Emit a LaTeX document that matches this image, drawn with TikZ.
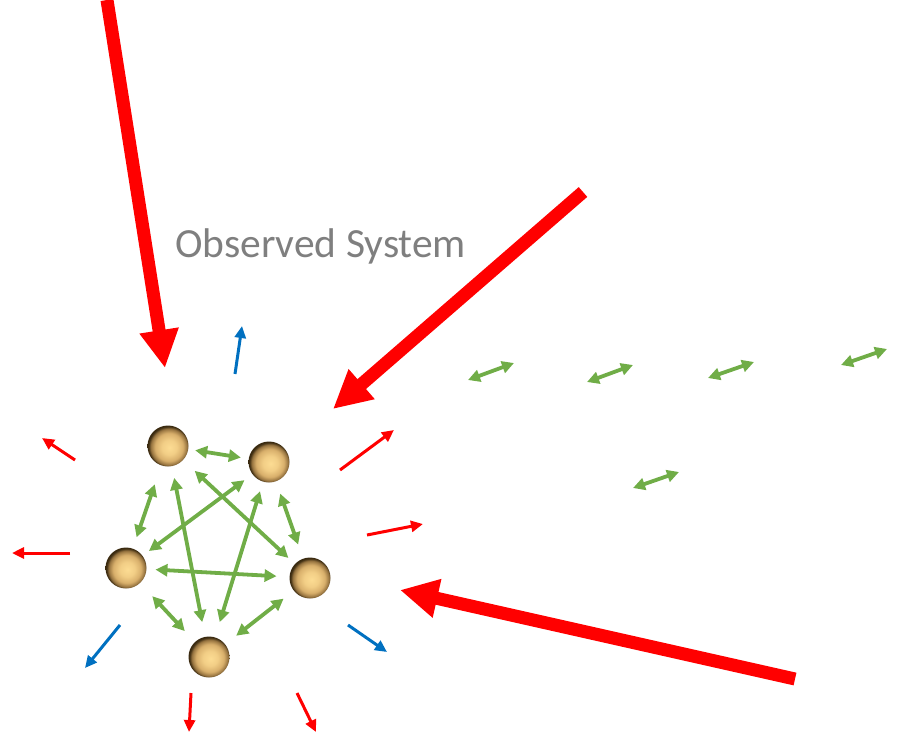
\documentclass[tikz,border=0pt]{standalone}
\usepackage{fontspec}
\setmainfont{Carlito}
\usetikzlibrary{arrows.meta}
\definecolor{bigred}{HTML}{FF0000}
\definecolor{myblue}{HTML}{0070C0}
\definecolor{mygreen}{HTML}{70AD47}
\definecolor{txtgray}{HTML}{7F7F7F}
\definecolor{ballA}{HTML}{FCDC93}
\definecolor{ballB}{HTML}{F2CE86}
\definecolor{ballC}{HTML}{D8AF6B}
\definecolor{ballD}{HTML}{977440}
\definecolor{ballE}{HTML}{3A2A10}
\pgfdeclareradialshading{ballshade}{\pgfpoint{2bp}{-2bp}}{%
  color(0bp)=(ballA);
  color(9bp)=(ballB);
  color(17bp)=(ballC);
  color(22bp)=(ballD);
  color(25bp)=(ballE);
  color(50bp)=(ballE)}
\tikzset{
  ball/.style={circle, minimum size=41pt, inner sep=0pt, outer sep=0pt, shading=ballshade},
  bigarrow/.style={draw=bigred, line width=13pt, -{Triangle[length=38pt,width=37pt]}},
  smallred/.style={draw=bigred, line width=3pt, -{Triangle[length=12pt,width=11pt]}},
  smallblue/.style={draw=myblue, line width=3pt, -{Triangle[length=12pt,width=11pt]}},
  link/.style={draw=mygreen, line width=3.8pt, {Triangle[length=12pt,width=12pt]}-{Triangle[length=12pt,width=12pt]}},
  label/.style={text=txtgray, font=\fontsize{41.5}{48}\selectfont, anchor=base, inner sep=0pt}
}
\begin{document}
\begin{tikzpicture}[x=1pt,y=-1pt]
\useasboundingbox (0,0) rectangle (901,745);
% balls
\node[ball] (A) at (168,446) {};
\node[ball] (B) at (269,462) {};
\node[ball] (C) at (126,568) {};
\node[ball] (D) at (310,578) {};
\node[ball] (E) at (209,657) {};
% title
\node[label] (title) at (320.5,257) {Observed System};
% interaction links
\draw[link, shorten <=7pt, shorten >=8pt] (A) -- (B);
\draw[link, shorten <=20pt, shorten >=12pt] (A) -- (C);
\draw[link, shorten <=12pt, shorten >=15pt] (A) -- (E);
\draw[link, shorten <=16pt, shorten >=9pt] (A) -- (D);
\draw[link, shorten <=10pt, shorten >=8pt] (B) -- (C);
\draw[link, shorten <=10pt, shorten >=16pt] (B) -- (E);
\draw[link, shorten <=13pt, shorten >=15pt] (B) -- (D);
\draw[link, shorten <=9pt, shorten >=13pt] (C) -- (D);
\draw[link, shorten <=18pt, shorten >=15pt] (C) -- (E);
\draw[link, shorten <=13pt, shorten >=14pt] (D) -- (E);
% free green links
\coordinate (g1a) at (468,380); \coordinate (g1b) at (514,363);
\coordinate (g2a) at (587,382); \coordinate (g2b) at (633,365);
\coordinate (g3a) at (708,378); \coordinate (g3b) at (754,362);
\coordinate (g4a) at (841,365); \coordinate (g4b) at (887,349);
\coordinate (g5a) at (633,488); \coordinate (g5b) at (679,472);
\draw[link] (g1a) -- (g1b);
\draw[link] (g2a) -- (g2b);
\draw[link] (g3a) -- (g3b);
\draw[link] (g4a) -- (g4b);
\draw[link] (g5a) -- (g5b);
% big incoming arrows
\coordinate (b1s) at (107,0);   \coordinate (b1t) at (165,368);
\coordinate (b2s) at (583,192); \coordinate (b2t) at (333,409);
\coordinate (b3s) at (795,679); \coordinate (b3t) at (400,590);
\draw[bigarrow] (b1s) -- (b1t);
\draw[bigarrow] (b2s) -- (b2t);
\draw[bigarrow] (b3s) -- (b3t);
% small outgoing arrows
\coordinate (u1s) at (235,374); \coordinate (u1t) at (242,326);
\coordinate (r1s) at (75,460);  \coordinate (r1t) at (42,438);
\coordinate (r2s) at (340,470); \coordinate (r2t) at (394,430);
\coordinate (r3s) at (367,535); \coordinate (r3t) at (423,524);
\coordinate (r4s) at (70,553);  \coordinate (r4t) at (12,553);
\coordinate (l1s) at (120,625); \coordinate (l1t) at (85,668);
\coordinate (l2s) at (348,625); \coordinate (l2t) at (387,652);
\coordinate (r5s) at (191,693); \coordinate (r5t) at (189,732);
\coordinate (r6s) at (297,693); \coordinate (r6t) at (316,732);
\draw[smallblue] (u1s) -- (u1t);
\draw[smallred] (r1s) -- (r1t);
\draw[smallred] (r2s) -- (r2t);
\draw[smallred] (r3s) -- (r3t);
\draw[smallred] (r4s) -- (r4t);
\draw[smallblue] (l1s) -- (l1t);
\draw[smallblue] (l2s) -- (l2t);
\draw[smallred] (r5s) -- (r5t);
\draw[smallred] (r6s) -- (r6t);
\end{tikzpicture}
\end{document}
